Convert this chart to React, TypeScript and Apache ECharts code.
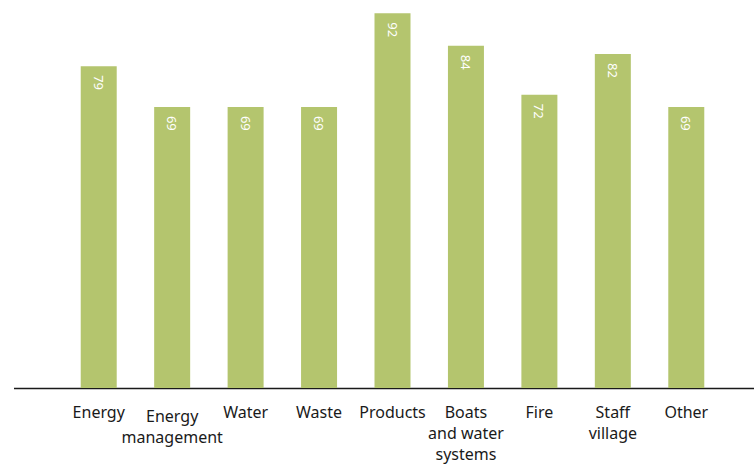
import React, { useEffect, useRef } from "react";
import * as echarts from "echarts";

const categories = [
  "Energy",
  "Energy\nmanagement",
  "Water",
  "Waste",
  "Products",
  "Boats\nand water\nsystems",
  "Fire",
  "Staff\nvillage",
  "Other",
];
const values = [79, 69, 69, 69, 92, 84, 72, 82, 69];

export default function App() {
  const ref = useRef<HTMLDivElement>(null);
  useEffect(() => {
    const chart = echarts.init(ref.current!, null, { renderer: "svg" });
    chart.setOption({
      animation: false,
      grid: { left: 62, width: 661, top: 1, bottom: 76 },
      xAxis: {
        type: "category",
        data: categories.map((c) =>
          c === "Energy\nmanagement"
            ? { value: c, textStyle: { padding: [4, 0, 0, 0] } }
            : c
        ),
        axisLine: { show: false },
        axisTick: { show: false },
        axisLabel: {
          interval: 0,
          margin: 13,
          color: "#1a1a1a",
          fontFamily: "Noto Sans",
          fontSize: 16,
          lineHeight: 21,
        },
      },
      yAxis: {
        type: "value",
        min: 0,
        max: 95,
        show: false,
        splitLine: { show: false },
      },
      series: [
        {
          type: "bar",
          data: values,
          barWidth: 36,
          itemStyle: { color: "#b4c56e" },
          label: {
            show: true,
            position: "insideTop",
            rotate: -90,
            align: "left",
            verticalAlign: "middle",
            distance: 7,
            offset: [2, 0],
            color: "#ffffff",
            fontFamily: "Noto Sans",
            fontSize: 13,
          },
        },
      ],
      graphic: [
        {
          type: "line",
          shape: { x1: 14, y1: 388.5, x2: 754, y2: 388.5 },
          style: { stroke: "#1a1a1a", lineWidth: 1.5 },
        },
      ],
    });
    return () => chart.dispose();
  }, []);
  return <div ref={ref} style={{ width: 754, height: 464, position: "absolute", left: 0, top: 0 }} />;
}
